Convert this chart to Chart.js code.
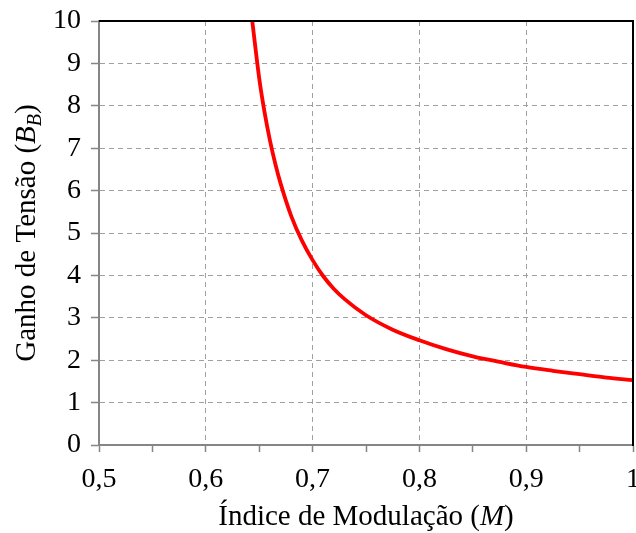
<!DOCTYPE html>
<html>
<head>
<meta charset="utf-8">
<script src="https://cdn.jsdelivr.net/npm/chart.js@4/dist/chart.umd.min.js"></script>
<style>
  html, body { margin: 0; padding: 0; background: #ffffff; }
  #wrap { width: 636px; height: 533px; }
</style>
</head>
<body>
<div id="wrap"><canvas id="c" width="636" height="533"></canvas></div>
<script>
// Voltage gain B_B as a function of the modulation index M
const modulationIndex = [0.6435, 0.65, 0.655, 0.66, 0.665, 0.67, 0.68, 0.69, 0.70, 0.71, 0.72, 0.73, 0.75, 0.775, 0.80, 0.825, 0.85, 0.875, 0.90, 0.925, 0.95, 0.975, 1.0];
const voltageGain     = [10, 8.65, 7.85, 7.19, 6.64, 6.17, 5.40, 4.82, 4.36, 3.98, 3.68, 3.44, 3.06, 2.72, 2.47, 2.26, 2.09, 1.96, 1.84, 1.75, 1.67, 1.59, 1.53];

// Axis ranges and labelled ticks
const xRange = [0.5, 1.0];
const xMajorTicks = [0.5, 0.6, 0.7, 0.8, 0.9, 1.0];
const xTickLabels = ['0,5', '0,6', '0,7', '0,8', '0,9', '1'];
const yRange = [0, 10];

// Axis titles as formatted runs (italic symbols, subscript)
const xTitleRuns = [
  { text: 'Índice de Modulação (' },
  { text: 'M', italic: true },
  { text: ')' }
];
const yTitleRuns = [
  { text: 'Ganho de Tensão (' },
  { text: 'B', italic: true },
  { text: 'B', italic: true, sub: true },
  { text: ')' }
];

const FONT = '"Liberation Serif", "Times New Roman", serif';
const TICK_SIZE = 28;
const TITLE_SIZE = 29;
const GRID_GREY = '#a0a0a0';
const AXIS_GREY = '#858585';

const points = modulationIndex.map((m, i) => ({ x: m, y: voltageGain[i] }));

function majorIndex(v) {
  return xMajorTicks.findIndex(t => Math.abs(t - v) < 1e-6);
}

function runFont(run, size) {
  const s = run.sub ? Math.round(size * 0.68) : size;
  return (run.italic ? 'italic ' : '') + s + 'px ' + FONT;
}

function drawRuns(ctx, runs, cx, baseline, size) {
  let total = 0;
  runs.forEach(r => { ctx.font = runFont(r, size); total += ctx.measureText(r.text).width; });
  let x = cx - total / 2;
  runs.forEach(r => {
    ctx.font = runFont(r, size);
    ctx.fillText(r.text, x, baseline + (r.sub ? size * 0.22 : 0));
    x += ctx.measureText(r.text).width;
  });
}

// Black frame on top/right and the rich-text axis titles
const framePlugin = {
  id: 'frameAndTitles',
  afterDatasetsDraw(chart) {
    const { ctx, chartArea: a } = chart;
    ctx.save();
    ctx.strokeStyle = '#000000';
    ctx.lineWidth = 2;
    ctx.beginPath();
    ctx.moveTo(a.left, a.top);
    ctx.lineTo(a.right, a.top);
    ctx.lineTo(a.right, a.bottom + 1);
    ctx.stroke();
    ctx.restore();
  },
  afterDraw(chart) {
    const { ctx, chartArea: a } = chart;
    ctx.save();
    ctx.fillStyle = '#000000';
    ctx.textBaseline = 'alphabetic';
    ctx.textAlign = 'left';
    drawRuns(ctx, xTitleRuns, (a.left + a.right) / 2, 525, TITLE_SIZE);
    ctx.translate(35, (a.top + a.bottom) / 2);
    ctx.rotate(-Math.PI / 2);
    drawRuns(ctx, yTitleRuns, 0, 0, TITLE_SIZE);
    ctx.restore();
  }
};

new Chart(document.getElementById('c'), {
  type: 'line',
  data: {
    datasets: [{
      data: points,
      borderColor: '#ff0000',
      borderWidth: 3.8,
      pointRadius: 0,
      fill: false,
      cubicInterpolationMode: 'monotone'
    }]
  },
  options: {
    responsive: false,
    devicePixelRatio: 1,
    animation: false,
    layout: { padding: { top: 21, right: 3, left: 0, bottom: 0 } },
    plugins: { legend: { display: false }, tooltip: { enabled: false }, title: { display: false } },
    scales: {
      x: {
        type: 'linear',
        min: xRange[0],
        max: xRange[1],
        afterFit(scale) {
          scale.height = 88;
          scale.paddingLeft = 0;
          scale.paddingRight = 0;
        },
        afterBuildTicks(scale) {
          const t = [];
          for (let i = 0; i <= 10; i++) t.push({ value: +(xRange[0] + i * 0.05).toFixed(2) });
          scale.ticks = t;
        },
        ticks: {
          autoSkip: false,
          maxRotation: 0,
          color: '#000000',
          padding: 11,
          font: { family: FONT, size: TICK_SIZE },
          callback(value) {
            const i = majorIndex(value);
            return i >= 0 ? xTickLabels[i] : '';
          }
        },
        grid: {
          drawOnChartArea: true,
          tickLength: 7,
          tickWidth: 1.5,
          tickColor: AXIS_GREY,
          lineWidth: 1,
          color(ctx) {
            const v = ctx.tick ? ctx.tick.value : null;
            if (v === null) return 'rgba(0,0,0,0)';
            const i = majorIndex(v);
            return (i > 0 && i < xMajorTicks.length - 1) ? GRID_GREY : 'rgba(0,0,0,0)';
          }
        },
        border: { display: true, color: AXIS_GREY, width: 2, dash: [5, 4] }
      },
      y: {
        type: 'linear',
        min: yRange[0],
        max: yRange[1],
        afterFit(scale) {
          scale.width = 99;
          scale.paddingTop = 0;
          scale.paddingBottom = 0;
        },
        ticks: {
          stepSize: 1,
          color: '#000000',
          padding: 10,
          font: { family: FONT, size: TICK_SIZE }
        },
        grid: {
          tickLength: 8,
          tickWidth: 1.5,
          tickColor: AXIS_GREY,
          lineWidth: 1,
          color(ctx) {
            const v = ctx.tick ? ctx.tick.value : null;
            return (v !== null && v > yRange[0] && v < yRange[1]) ? GRID_GREY : 'rgba(0,0,0,0)';
          }
        },
        border: { display: true, color: AXIS_GREY, width: 2, dash: [5, 4] }
      }
    }
  },
  plugins: [framePlugin]
});
</script>
</body>
</html>
